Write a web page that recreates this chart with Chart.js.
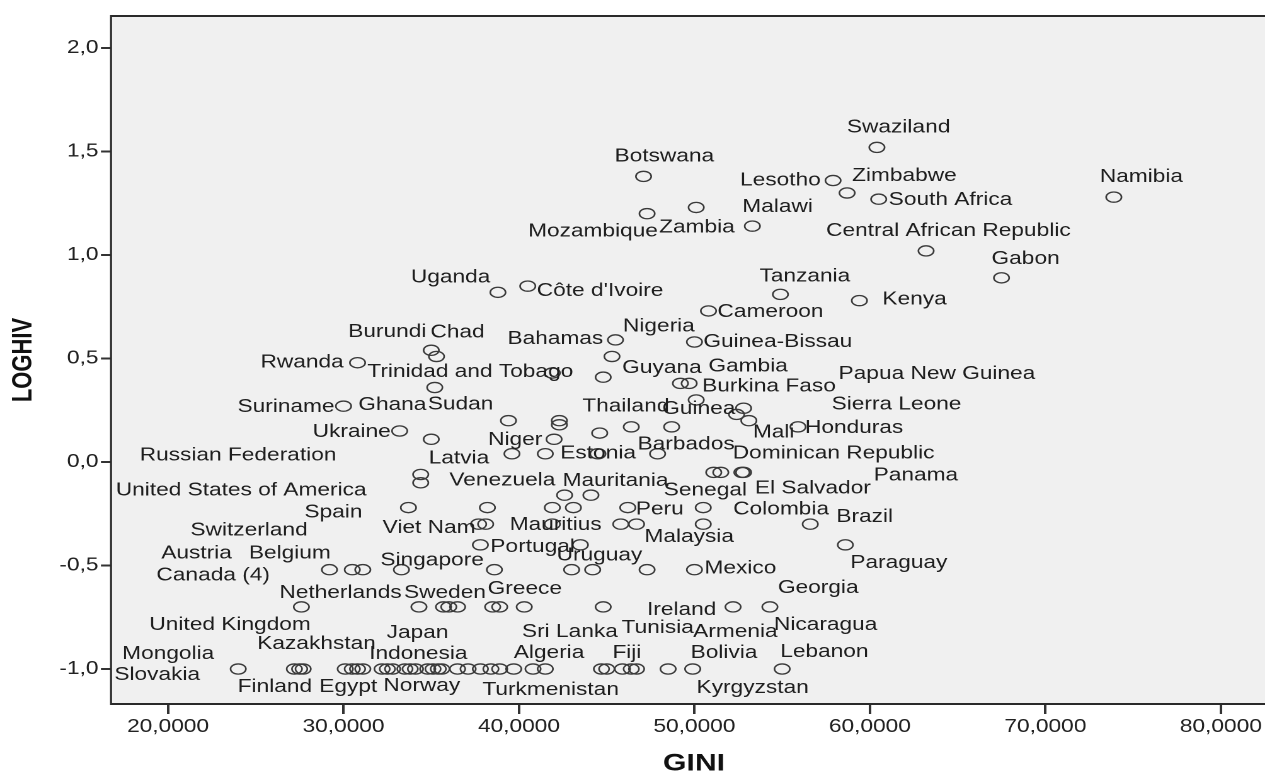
<!DOCTYPE html>
<html>
<head>
<meta charset="utf-8">
<title>LOGHIV vs GINI</title>
<script src="https://cdn.jsdelivr.net/npm/chart.js@4.4.1/dist/chart.umd.min.js"></script>
<style>
  html, body { margin: 0; padding: 0; background: #fff; overflow: hidden; }
  #wrap {
    position: absolute; left: 0; top: 0;
    width: 1030px; height: 776px;
    transform: scaleX(1.26); transform-origin: 0 0;
  }
</style>
</head>
<body>
<div id="wrap"><canvas id="chart"></canvas></div>
<script>
// the original picture is stretched sideways, so the chart is drawn narrower and scaled in CSS
const STRETCH = 1.26;
const FONT = '"Liberation Sans", Arial, sans-serif';

// labelled countries
const countries = [
    'Swaziland', 'Botswana', 'Lesotho', 'Zimbabwe', 'South Africa', 'Namibia', 'Mozambique', 'Zambia',
    'Malawi', 'Central African Republic', 'Gabon', 'Tanzania', 'Kenya', 'Uganda', "Côte d'Ivoire", 'Cameroon',
    'Bahamas', 'Nigeria', 'Guinea-Bissau', 'Burundi', 'Chad', 'Rwanda', 'Trinidad and Tobago', 'Guyana',
    'Gambia', 'Burkina Faso', 'Sudan', 'Suriname', 'Ghana', 'Ukraine', 'Thailand', 'Guinea',
    'Sierra Leone', 'Papua New Guinea', 'Mali', 'Honduras', 'Niger', 'Barbados', 'Estonia', 'Latvia',
    'Russian Federation', 'United States of America', 'Venezuela', 'Mauritania', 'Dominican Republic', 'Senegal', 'El Salvador', 'Panama',
    'Spain', 'Peru', 'Colombia', 'Brazil', 'Viet Nam', 'Mauritius', 'Malaysia', 'Portugal',
    'Paraguay', 'Switzerland', 'Canada (4)', 'Austria', 'Belgium', 'Singapore', 'Uruguay', 'Mexico',
    'Netherlands', 'United Kingdom', 'Sweden', 'Greece', 'Ireland', 'Georgia', 'Nicaragua', 'Mongolia',
    'Slovakia', 'Finland', 'Kazakhstan', 'Egypt', 'Indonesia', 'Norway', 'Japan', 'Turkmenistan',
    'Algeria', 'Sri Lanka', 'Fiji', 'Tunisia', 'Kyrgyzstan', 'Armenia', 'Bolivia', 'Lebanon'
];
const countryGini = [
    60.4, 47.1, 57.9, 58.7, 60.5, 73.9, 47.3, 50.1,
    53.3, 63.2, 67.5, 54.9, 59.4, 38.8, 40.5, 50.8,
    45.5, 45.3, 50.0, 35.0, 35.3, 30.8, 41.9, 44.8,
    49.2, 49.7, 35.2, 30.0, 35.0, 33.2, 42.3, 50.1,
    52.4, 52.8, 53.1, 55.9, 42.0, 47.9, 41.5, 34.4,
    34.4, 34.4, 38.2, 42.6, 51.5, 51.1, 52.7, 52.8,
    33.7, 46.2, 50.5, 56.6, 37.7, 38.1, 46.7, 37.8,
    58.6, 29.2, 29.2, 30.5, 31.1, 33.3, 43.0, 50.0,
    27.6, 27.6, 34.3, 38.5, 52.2, 54.3, 54.3, 24.0,
    27.2, 27.5, 30.1, 30.5, 32.2, 32.5, 32.8, 37.8,
    39.7, 40.8, 44.7, 45.9, 46.7, 48.5, 49.9, 55.0
];
const countryLoghiv = [
    1.52, 1.38, 1.36, 1.30, 1.27, 1.28, 1.20, 1.23,
    1.14, 1.02, 0.89, 0.81, 0.78, 0.82, 0.85, 0.73,
    0.59, 0.51, 0.58, 0.54, 0.51, 0.48, 0.43, 0.41,
    0.38, 0.38, 0.36, 0.27, 0.11, 0.15, 0.20, 0.30,
    0.23, 0.26, 0.20, 0.17, 0.11, 0.04, 0.04, -0.06,
    -0.10, -0.10, -0.22, -0.16, -0.05, -0.05, -0.05, -0.05,
    -0.22, -0.22, -0.22, -0.30, -0.30, -0.30, -0.30, -0.40,
    -0.40, -0.52, -0.52, -0.52, -0.52, -0.52, -0.52, -0.52,
    -0.70, -0.70, -0.70, -0.70, -0.70, -0.70, -0.70, -1.00,
    -1.00, -1.00, -1.00, -1.00, -1.00, -1.00, -1.00, -1.00,
    -1.00, -1.00, -1.00, -1.00, -1.00, -1.00, -1.00, -1.00
];

// points whose labels are hidden by overlap
const otherGini = [
    39.4, 42.3, 44.6, 46.4, 48.7, 39.6, 44.5, 44.1, 41.9, 43.1, 41.9, 45.8, 50.5, 43.5, 38.6, 44.2, 47.3,
    35.7, 36.0, 36.5, 38.9, 40.3, 44.8,
    27.7, 30.8, 31.1, 33.5, 33.8, 34.1, 34.8, 35.1, 35.4, 35.6, 36.5, 37.1, 38.4, 38.9, 41.5, 45.0, 46.4
];
const otherLoghiv = [
    0.20, 0.18, 0.14, 0.17, 0.17, 0.04, 0.04, -0.16, -0.22, -0.22, -0.30, -0.30, -0.30, -0.40, -0.52, -0.52, -0.52,
    -0.70, -0.70, -0.70, -0.70, -0.70, -0.70,
    -1.00, -1.00, -1.00, -1.00, -1.00, -1.00, -1.00, -1.00, -1.00, -1.00, -1.00, -1.00, -1.00, -1.00, -1.00, -1.00, -1.00
];

// where each label sits relative to its point (screen px: left edge, vertical middle)
const labelOffset = {
    'Swaziland': [-30, -20], 'Botswana': [-29, -20], 'Lesotho': [-93, 0], 'Zimbabwe': [5, -17],
    'South Africa': [10, 1], 'Namibia': [-14, -20], 'Mozambique': [-119, 18], 'Zambia': [-37, 20],
    'Malawi': [-10, -19], 'Central African Republic': [-100, -20], 'Gabon': [-10, -19], 'Tanzania': [-21, -18],
    'Kenya': [23, -1], 'Uganda': [-87, -15], "Côte d'Ivoire": [9, 5], 'Cameroon': [9, 1],
    'Bahamas': [-108, -1], 'Nigeria': [11, -30], 'Guinea-Bissau': [9, 0], 'Burundi': [-83, -18],
    'Chad': [-6, -24], 'Rwanda': [-97, 0], 'Trinidad and Tobago': [-185, -1], 'Guyana': [19, -9],
    'Gambia': [28, -17], 'Burkina Faso': [13, 3], 'Sudan': [-7, 17], 'Suriname': [-106, 1],
    'Ghana': [-73, -34], 'Ukraine': [-87, 1], 'Thailand': [23, -14], 'Guinea': [-34, 9],
    'Sierra Leone': [95, -10], 'Papua New Guinea': [95, -34], 'Mali': [4, 12], 'Honduras': [7, 1],
    'Niger': [-66, 1], 'Barbados': [-20, -9], 'Estonia': [15, 0], 'Latvia': [8, -16],
    'Russian Federation': [-281, -27], 'United States of America': [-305, 8], 'Venezuela': [-38, -27], 'Mauritania': [-2, -14],
    'Dominican Republic': [12, -19], 'Senegal': [-50, 18], 'El Salvador': [13, 16], 'Panama': [130, 3],
    'Spain': [-104, 5], 'Peru': [8, 2], 'Colombia': [30, 2], 'Brazil': [26, -7],
    'Viet Nam': [-96, 4], 'Mauritius': [24, 1], 'Malaysia': [8, 13], 'Portugal': [10, 2],
    'Paraguay': [5, 18], 'Switzerland': [-139, -39], 'Canada (4)': [-173, 6], 'Austria': [-191, -16],
    'Belgium': [-114, -16], 'Singapore': [-21, -9], 'Uruguay': [-15, -14], 'Mexico': [10, -1],
    'Netherlands': [-22, -14], 'United Kingdom': [-152, 18], 'Sweden': [-15, -14], 'Greece': [-5, -18],
    'Ireland': [-86, 3], 'Georgia': [8, -19], 'Nicaragua': [4, 18], 'Mongolia': [-116, -15],
    'Slovakia': [-180, 6], 'Finland': [-62, 18], 'Kazakhstan': [-88, -25], 'Egypt': [-33, 18],
    'Indonesia': [-13, -15], 'Norway': [-4, 17], 'Japan': [-6, -36], 'Turkmenistan': [2, 21],
    'Algeria': [0, -16], 'Sri Lanka': [-11, -37], 'Fiji': [11, -16], 'Tunisia': [-1, -41],
    'Kyrgyzstan': [60, 19], 'Armenia': [25, -37], 'Bolivia': [-2, -16], 'Lebanon': [-2, -17]
};

// one mark per position
const points = [];
const seen = new Set();
function addPoint(g, v) {
    const key = g + '|' + v;
    if (seen.has(key)) return;
    seen.add(key);
    points.push({ x: g, y: v });
}
countries.forEach((_, i) => addPoint(countryGini[i], countryLoghiv[i]));
otherGini.forEach((g, i) => addPoint(g, otherLoghiv[i]));

const framePlugin = {
    id: 'frame',
    beforeDraw(chart) {
        const { ctx, chartArea: a } = chart;
        ctx.save();
        ctx.fillStyle = '#ffffff';
        ctx.fillRect(0, 0, chart.width, chart.height);
        ctx.fillStyle = '#f0f0f0';
        ctx.fillRect(a.left, a.top, a.right - a.left, a.bottom - a.top);
        ctx.restore();
    },
    beforeDatasetsDraw(chart) {
        const { ctx, chartArea: a } = chart;
        ctx.save();
        ctx.strokeStyle = '#2a2a2a';
        ctx.lineWidth = 2;
        ctx.beginPath();
        ctx.moveTo(a.left, a.top); ctx.lineTo(a.right, a.top);
        ctx.moveTo(a.left, a.bottom); ctx.lineTo(a.right, a.bottom);
        ctx.stroke();
        ctx.lineWidth = 1.6;
        ctx.beginPath();
        ctx.moveTo(a.left, a.top - 1); ctx.lineTo(a.left, a.bottom + 1);
        ctx.stroke();
        ctx.restore();
    }
};

const labelPlugin = {
    id: 'countryLabels',
    afterDatasetsDraw(chart) {
        const { ctx, scales: { x, y } } = chart;
        ctx.save();
        ctx.font = '18px ' + FONT;
        ctx.fillStyle = '#1e1e1e';
        ctx.textAlign = 'left';
        ctx.textBaseline = 'middle';
        countries.forEach((name, i) => {
            const off = labelOffset[name] || [8, 0];
            const px = x.getPixelForValue(countryGini[i]) + off[0] / STRETCH;
            const py = y.getPixelForValue(countryLoghiv[i]) + off[1];
            ctx.fillText(name, px, py);
        });
        ctx.restore();
    }
};

function buildChart(marker) {
    const ctx = document.getElementById('chart').getContext('2d');
    new Chart(ctx, {
        type: 'scatter',
        data: {
            datasets: [{
                data: points,
                pointStyle: marker,
                pointRadius: 6,
                pointBorderColor: '#3a3a3a',
                pointBackgroundColor: 'rgba(0,0,0,0)',
                pointBorderWidth: 1.3
            }]
        },
        options: {
            animation: false,
            responsive: true,
            maintainAspectRatio: false,
            devicePixelRatio: 2,
            layout: { padding: { top: 16, right: 16.5, left: 0, bottom: 0 } },
            plugins: {
                legend: { display: false },
                tooltip: { enabled: false }
            },
            scales: {
                x: {
                    type: 'linear',
                    min: 16.75,
                    max: 83.2,
                    afterFit: scale => { scale.height = 72; },
                    ticks: {
                        stepSize: 10,
                        includeBounds: false,
                        autoSkip: false,
                        maxRotation: 0,
                        padding: 2,
                        color: '#222',
                        font: { family: FONT, size: 18 },
                        callback: v => v.toFixed(4).replace('.', ',')
                    },
                    grid: { drawOnChartArea: false, drawTicks: true, tickLength: 10, color: '#333', lineWidth: 2 },
                    border: { display: false },
                    title: {
                        display: true,
                        text: 'GINI',
                        color: '#111',
                        font: { family: FONT, size: 24, weight: 'bold', lineHeight: 1 },
                        padding: { top: 0, bottom: 0 }
                    }
                },
                y: {
                    type: 'linear',
                    min: -1.169,
                    max: 2.155,
                    afterFit: scale => { scale.width = 111 / STRETCH; },
                    ticks: {
                        stepSize: 0.5,
                        includeBounds: false,
                        padding: 2,
                        color: '#222',
                        font: { family: FONT, size: 18 },
                        callback: v => v.toFixed(1).replace('.', ',')
                    },
                    grid: { drawOnChartArea: false, drawTicks: true, tickLength: 8, color: '#333', lineWidth: 2 },
                    border: { display: false },
                    title: {
                        display: true,
                        text: 'LOGHIV',
                        color: '#111',
                        font: { family: FONT, size: 22, weight: 'bold', lineHeight: 1 },
                        padding: { top: 8, bottom: 0 }
                    }
                }
            }
        },
        plugins: [framePlugin, labelPlugin]
    });
}

// slightly wide open ellipse marker, as in the original
const svg = "<svg xmlns='http://www.w3.org/2000/svg' width='56' height='48' viewBox='0 0 14 12'>" +
    "<ellipse cx='7' cy='6' rx='6.1' ry='5.1' fill='none' stroke='#3a3a3a' stroke-width='1.3'/></svg>";
const marker = new Image();
marker.onload = () => {
    marker.width = 14;
    marker.height = 12;
    buildChart(marker);
};
marker.onerror = () => buildChart('circle');
marker.src = 'data:image/svg+xml;charset=utf-8,' + encodeURIComponent(svg);
</script>
</body>
</html>
